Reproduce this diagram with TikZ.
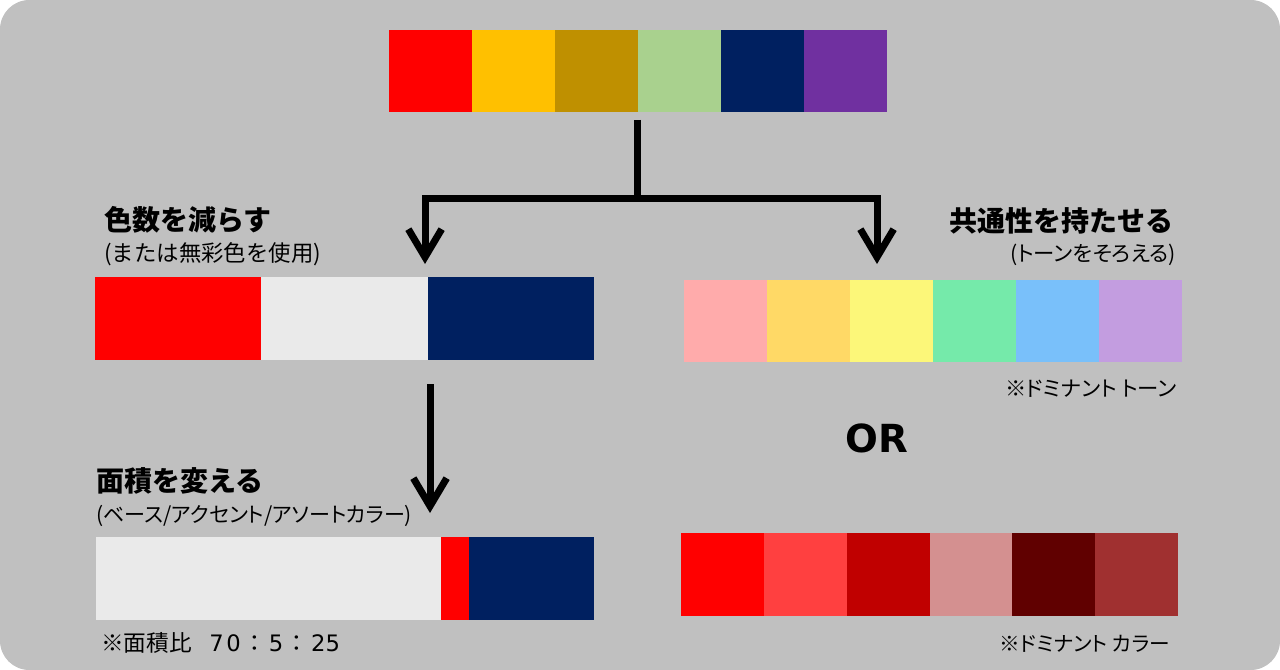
\documentclass[tikz,border=0pt]{standalone}
\usepackage{fontspec}
\newfontfamily\jp{Noto Sans CJK JP}
\newfontfamily\jpp[RawFeature=+palt]{Noto Sans CJK JP}
\newfontfamily\dvs{DejaVu Sans}
\usetikzlibrary{arrows.meta}
\definecolor{bggray}{RGB}{192,192,192}
\definecolor{cA}{RGB}{255,0,0}
\definecolor{cB}{RGB}{255,192,0}
\definecolor{cC}{RGB}{191,144,0}
\definecolor{cD}{RGB}{169,209,142}
\definecolor{cE}{RGB}{0,32,96}
\definecolor{cF}{RGB}{112,48,160}
\definecolor{lgray}{RGB}{234,234,234}
\definecolor{pA}{RGB}{255,171,171}
\definecolor{pB}{RGB}{255,217,102}
\definecolor{pC}{RGB}{252,247,121}
\definecolor{pD}{RGB}{117,234,170}
\definecolor{pE}{RGB}{121,192,250}
\definecolor{pF}{RGB}{195,157,224}
\definecolor{rA}{RGB}{255,0,0}
\definecolor{rB}{RGB}{255,64,64}
\definecolor{rC}{RGB}{192,0,0}
\definecolor{rD}{RGB}{212,144,144}
\definecolor{rE}{RGB}{96,0,0}
\definecolor{rF}{RGB}{160,48,48}
\tikzset{
  seg/.style={rectangle, inner sep=0pt, outer sep=0pt, anchor=north west, minimum height=61.5pt},
  conn/.style={line width=5.25pt, draw=black, line join=miter},
  tipstyle/.style={-{Straight Barb[length=21pt, width=25pt]}},
  title/.style={inner sep=0pt, font=\jp\bfseries\fontsize{21}{25}\selectfont},
  txt/.style={inner sep=0pt},
}
\begin{document}
\begin{tikzpicture}[x=0.75pt,y=-0.75pt]
\useasboundingbox (0,0) rectangle (1280,670);
\fill[white] (0,0) rectangle (1280,670);
\fill[bggray, rounded corners=22pt] (0,0) rectangle (1280,670);

% top bar
\node[seg, fill=cA, minimum width=62.25pt] (t1) at (389,30) {};
\node[seg, fill=cB, minimum width=62.25pt] (t2) at (472,30) {};
\node[seg, fill=cC, minimum width=62.25pt] (t3) at (555,30) {};
\node[seg, fill=cD, minimum width=62.25pt] (t4) at (638,30) {};
\node[seg, fill=cE, minimum width=62.25pt] (t5) at (721,30) {};
\node[seg, fill=cF, minimum width=62.25pt] (t6) at (804,30) {};

% left middle bar
\node[seg, fill=cA, minimum width=124.75pt, minimum height=62.25pt] (l1) at (95,277) {};
\node[seg, fill=lgray, minimum width=125.25pt, minimum height=62.25pt] (l2) at (261,277) {};
\node[seg, fill=cE, minimum width=124.5pt, minimum height=62.25pt] (l3) at (428,277) {};

% left bottom bar
\node[seg, fill=lgray, minimum width=258.75pt, minimum height=62.25pt] (b1) at (96,537) {};
\node[seg, fill=cA, minimum width=21pt, minimum height=62.25pt] (b2) at (441,537) {};
\node[seg, fill=cE, minimum width=93.75pt, minimum height=62.25pt] (b3) at (469,537) {};

% right tone bar
\node[seg, fill=pA, minimum width=62.5pt] (p1) at (684,280) {};
\node[seg, fill=pB, minimum width=62.5pt] (p2) at (767,280) {};
\node[seg, fill=pC, minimum width=62.5pt] (p3) at (850,280) {};
\node[seg, fill=pD, minimum width=62.5pt] (p4) at (933,280) {};
\node[seg, fill=pE, minimum width=62.5pt] (p5) at (1016,280) {};
\node[seg, fill=pF, minimum width=62.5pt] (p6) at (1099,280) {};

% right color bar
\node[seg, fill=rA, minimum width=62.25pt, minimum height=62.25pt] (r1) at (681,533) {};
\node[seg, fill=rB, minimum width=62.25pt, minimum height=62.25pt] (r2) at (764,533) {};
\node[seg, fill=rC, minimum width=62.25pt, minimum height=62.25pt] (r3) at (847,533) {};
\node[seg, fill=rD, minimum width=62.25pt, minimum height=62.25pt] (r4) at (930,533) {};
\node[seg, fill=rE, minimum width=62.25pt, minimum height=62.25pt] (r5) at (1012,533) {};
\node[seg, fill=rF, minimum width=62.25pt, minimum height=62.25pt] (r6) at (1095,533) {};

% connectors
\coordinate (stem) at (637,120);
\coordinate (fork) at (637,199);
\coordinate (ltip) at (425,264);
\coordinate (rtip) at (877,264);
\coordinate (dstart) at (430,384);
\coordinate (dtip) at (430,513);
\draw[conn] (stem) -- (fork);
\draw[conn, tipstyle] (fork) -| (ltip);
\draw[conn, tipstyle] (fork) -| (rtip);
\draw[conn, tipstyle] (dstart) -- (dtip);

% texts
\node[title, anchor=base west] (h1) at (104,231) {色数を減らす};
\node[txt, font=\jp\fontsize{16.8}{20}\selectfont, anchor=base west] (s1) at (104,262) {(または無彩色を使用)};
\node[title, anchor=base east] (h2) at (1174,232) {共通性を持たせる};
\node[txt, font=\jpp\fontsize{16}{20}\selectfont, anchor=base east] (s2) at (1176,262) {(トーンをそろえる)};
\node[txt, font=\jpp\fontsize{16}{20}\selectfont, anchor=base east] (n1) at (1177,396) {※ドミナント トーン};
\node[inner sep=0pt, font=\dvs\bfseries\fontsize{29}{34}\selectfont] (or) at (877,438) {OR};
\node[txt, font=\jpp\fontsize{15.5}{20}\selectfont, anchor=base east] (n2) at (1170,651) {※ドミナント カラー};
\node[title, anchor=base west] (h3) at (96,491) {面積を変える};
\node[txt, font=\jpp\fontsize{15.8}{20}\selectfont, anchor=base west] (s3) at (96,522) {(ベース/アクセント/アソートカラー)};
\node[txt, font=\jp\fontsize{17}{20}\selectfont, anchor=base west] (n3) at (101,651) {※面積比\hspace{13pt}{\dvs 7\hspace{2pt}0}\hspace{2pt}：\hspace{2pt}{\dvs 5}\hspace{2pt}：\hspace{2pt}{\dvs 25}};
\end{tikzpicture}
\end{document}
